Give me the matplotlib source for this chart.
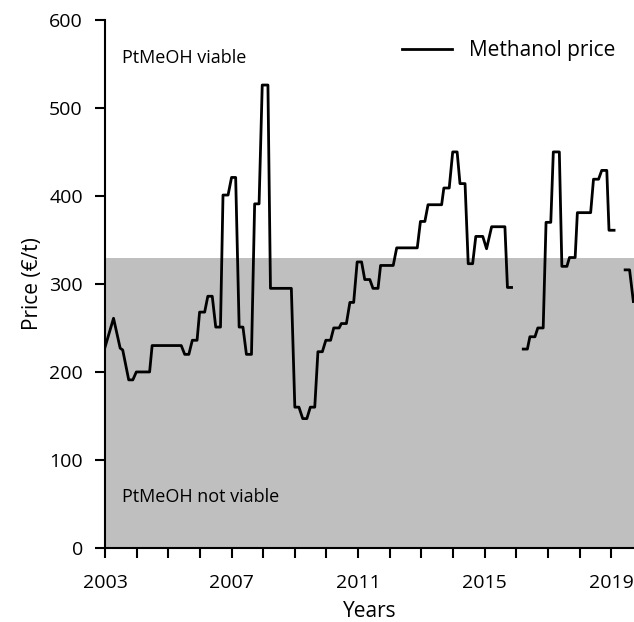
import numpy as np
import matplotlib.pyplot as plt

plt.rcParams['font.family'] = ['Open Sans', 'DejaVu Sans']

# Methanol price (year, EUR/t); nan marks a gap in the data
years = [2003.00, 2003.27, 2003.48, 2003.56, 2003.75, 2003.88, 2003.99, 2004.41,
         2004.49, 2005.41, 2005.52, 2005.65, 2005.76, 2005.91, 2005.99, 2006.15,
         2006.25, 2006.39, 2006.50, 2006.65, 2006.73, 2006.89, 2007.00, 2007.13,
         2007.24, 2007.36, 2007.47, 2007.63, 2007.73, 2007.87, 2007.97, 2008.15,
         2008.23, 2008.89, 2009.00, 2009.13, 2009.25, 2009.38, 2009.49, 2009.63,
         2009.73, 2009.87, 2009.98, 2010.13, 2010.23, 2010.40, 2010.47, 2010.63,
         2010.74, 2010.86, 2010.97, 2011.11, 2011.21, 2011.37, 2011.47, 2011.63,
         2011.71, 2012.11, 2012.22, 2012.87, 2012.97, 2013.11, 2013.21, 2013.64,
         2013.71, 2013.88, 2013.99, 2014.13, 2014.22, 2014.38, 2014.48, 2014.62,
         2014.72, 2014.94, 2015.06, 2015.22, 2015.64, 2015.72, 2015.85,
         2016.0,
         2016.22, 2016.35, 2016.43, 2016.59, 2016.68, 2016.85, 2016.94, 2017.09,
         2017.17, 2017.36, 2017.44, 2017.60, 2017.68, 2017.86, 2017.93, 2018.35,
         2018.44, 2018.60, 2018.70, 2018.86, 2018.93, 2019.09,
         2019.3,
         2019.44, 2019.58, 2019.70]
price = [228, 261, 227, 225, 191, 191, 200, 200,
         230, 230, 220, 220, 236, 236, 268, 268,
         286, 286, 251, 251, 401, 401, 421, 421,
         251, 251, 220, 220, 391, 391, 526, 526,
         295, 295, 160, 160, 147, 147, 160, 160,
         223, 223, 236, 236, 250, 250, 255, 255,
         279, 279, 325, 325, 305, 305, 295, 295,
         321, 321, 341, 341, 371, 371, 390, 390,
         409, 409, 450, 450, 414, 414, 323, 323,
         354, 354, 340, 365, 365, 296, 296,
         np.nan,
         226, 226, 240, 240, 250, 250, 370, 370,
         450, 450, 320, 320, 330, 330, 381, 381,
         419, 419, 429, 429, 361, 361,
         np.nan,
         316, 316, 280]

threshold = 330
xticks = [2003, 2007, 2011, 2015, 2019]

fig = plt.figure(figsize=(6.34, 6.22), dpi=100)
ax = fig.add_axes([0.1656, 0.119, 0.8344, 0.849])

ax.axhspan(0, threshold, color='#bfbfbf', lw=0, zorder=0)
ax.plot(years, price, color='black', lw=2.0, label='Methanol price', zorder=3)

ax.set_xlim(2003, 2019.72)
ax.set_ylim(0, 600)
ax.set_xticks(xticks)
ax.set_xticks(range(2003, 2020), minor=True)
ax.set_yticks(range(0, 601, 100))
ax.tick_params(axis='both', which='both', direction='out', length=7, width=1.5,
               labelsize=14)
ax.tick_params(axis='x', which='major', pad=12)
ax.tick_params(axis='y', which='major', pad=9)
for s in ['top', 'right']:
    ax.spines[s].set_visible(False)
for s in ['left', 'bottom']:
    ax.spines[s].set_linewidth(1.5)

ax.set_xlabel('Years', fontsize=15, labelpad=6)
ax.set_ylabel('Price (€/t)', fontsize=15, labelpad=4)

ax.text(0.032, 0.928, 'PtMeOH viable', transform=ax.transAxes, fontsize=13,
        va='center')
ax.text(0.032, 0.097, 'PtMeOH not viable', transform=ax.transAxes, fontsize=13,
        va='center')

ax.legend(loc='upper right', bbox_to_anchor=(1.0, 0.997), frameon=False,
          fontsize=15, handlelength=2.4, handletextpad=0.8)

fig.savefig('out.png', dpi=100)
